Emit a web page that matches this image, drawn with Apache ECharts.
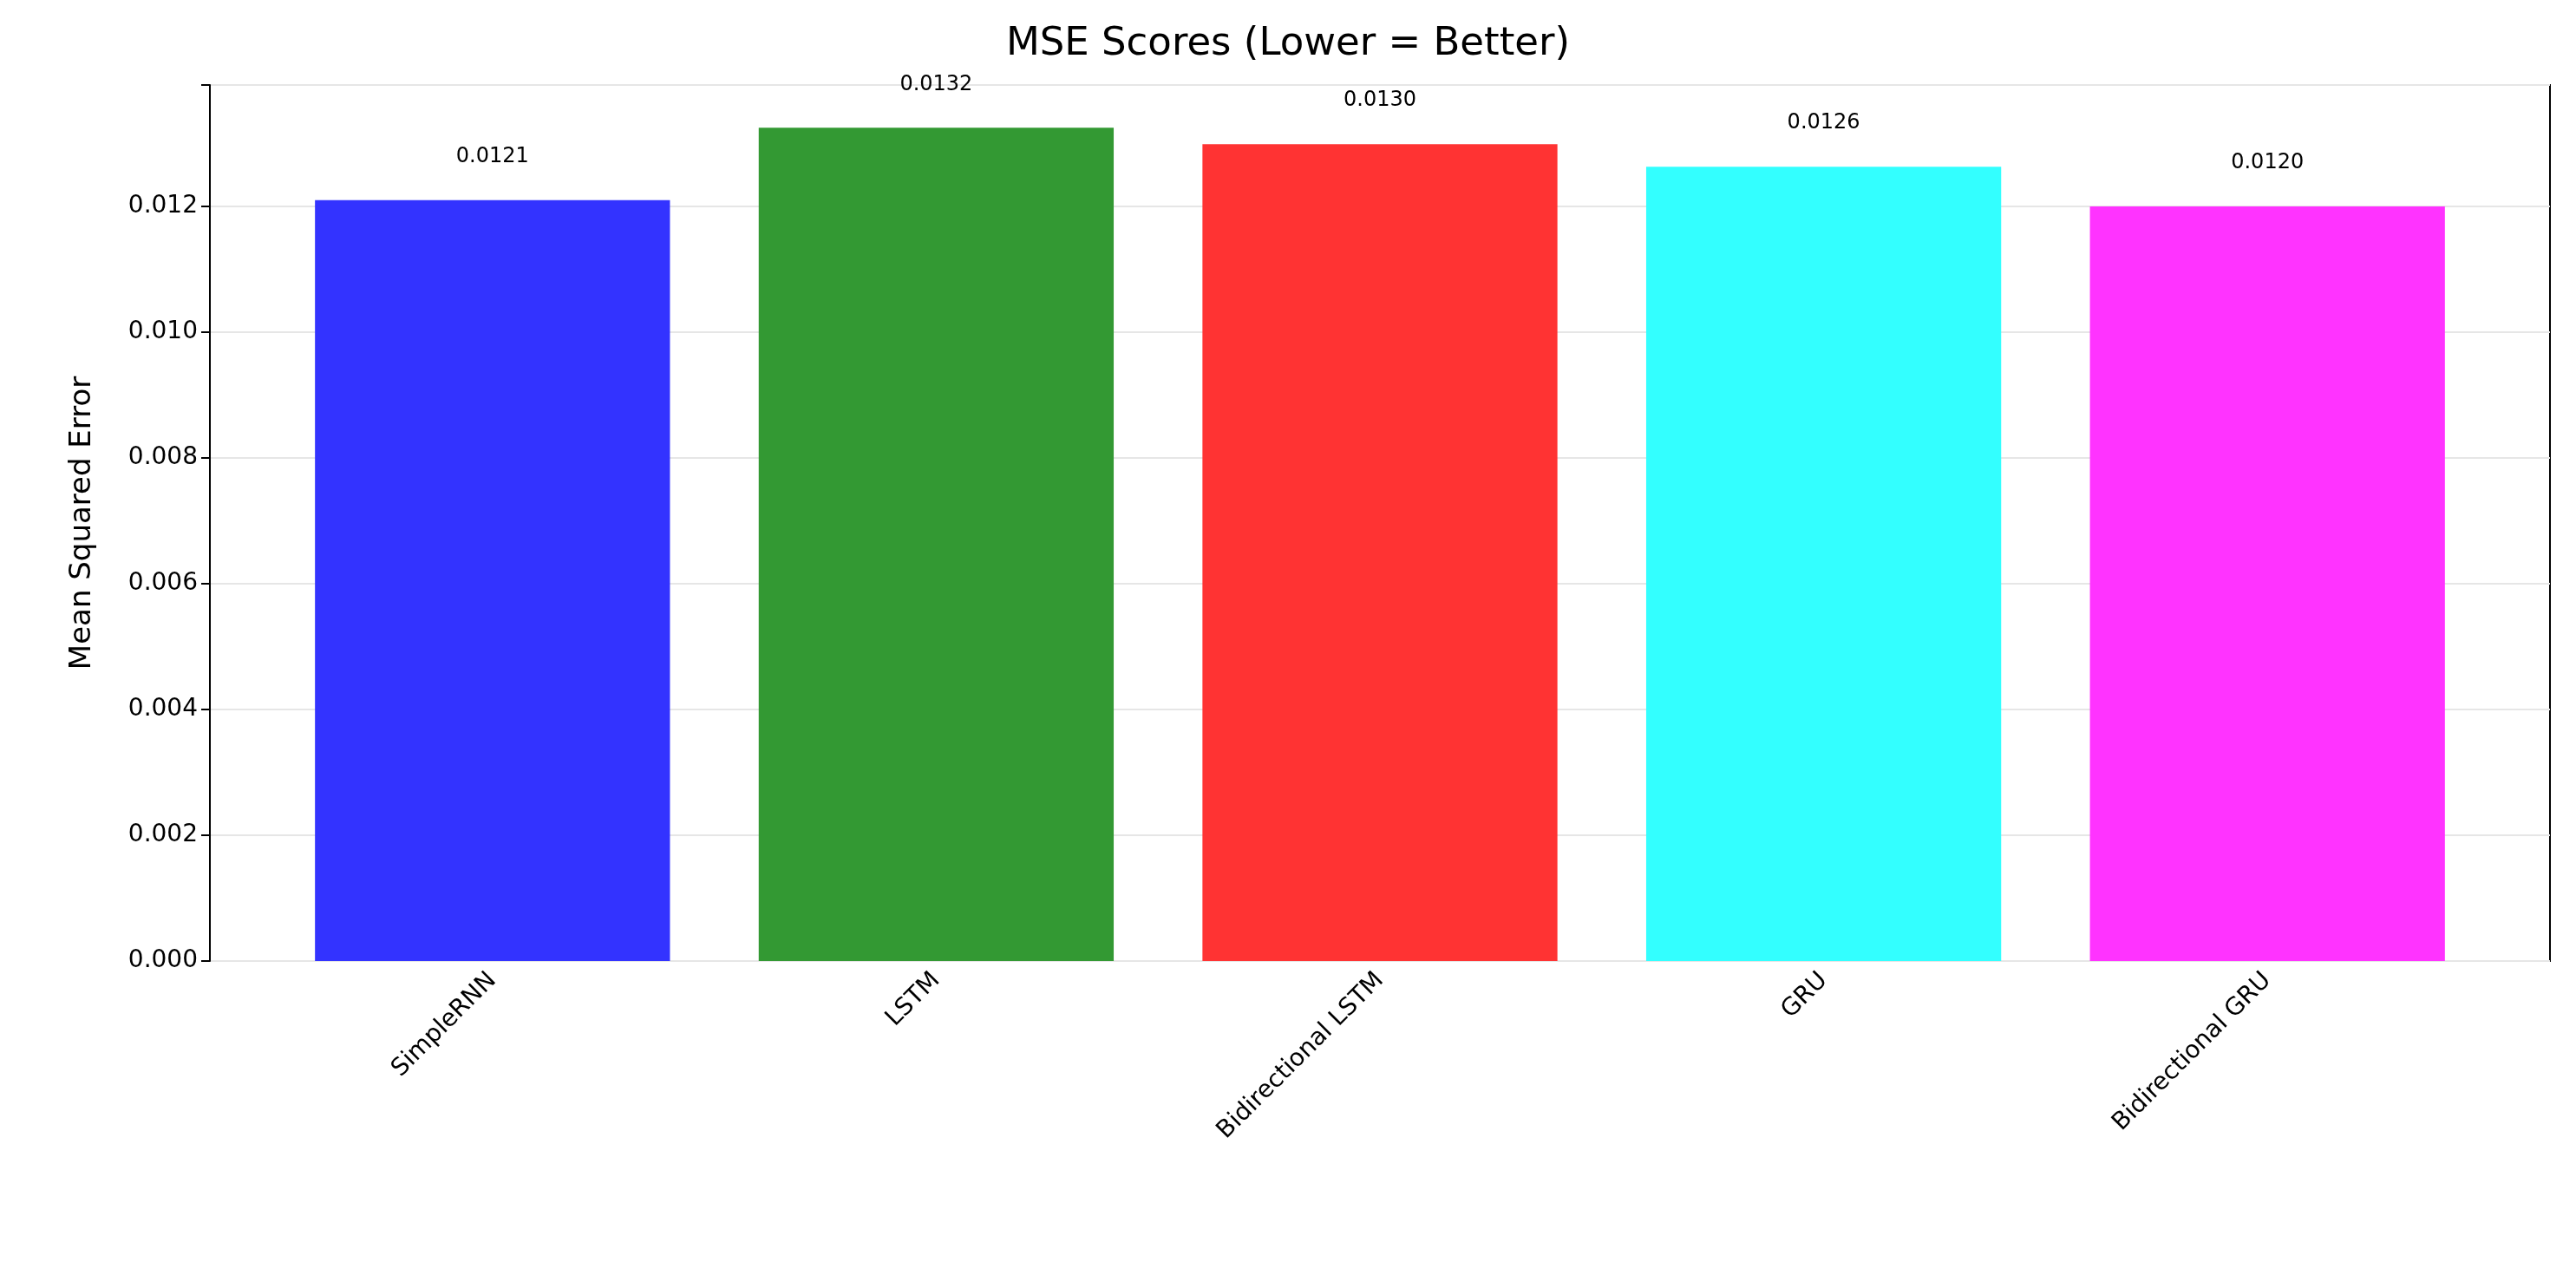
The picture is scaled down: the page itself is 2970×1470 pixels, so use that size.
<!DOCTYPE html>
<html>
<head>
<meta charset="utf-8">
<script src="https://cdn.jsdelivr.net/npm/echarts@6/dist/echarts.min.js"></script>
<style>html,body{margin:0;padding:0;background:#fff}#chart{width:2970px;height:1470px}</style>
</head>
<body>
<div id="chart"></div>
<script>
const models = ['SimpleRNN', 'LSTM', 'Bidirectional LSTM', 'GRU', 'Bidirectional GRU'];
const mseValues = [0.01210, 0.01325, 0.01299, 0.01263, 0.01200];
const barColors = ['#3333ff', '#339933', '#ff3333', '#33ffff', '#ff33ff'];
const yTicks = [0, 0.002, 0.004, 0.006, 0.008, 0.010, 0.012];

const font = 'DejaVu Sans';
const yMax = 0.01393;

const chart = echarts.init(document.getElementById('chart'));

const option = {
    backgroundColor: '#fff',
    animation: false,
    title: {
        text: 'MSE Scores (Lower = Better)',
        left: 'center',
        top: 24,
        textStyle: { fontFamily: font, fontSize: 45, fontWeight: 'normal', color: '#000' }
    },
    grid: [
        { left: 242, right: 30, top: 98, bottom: 362, show: true, borderColor: '#000', borderWidth: 2, backgroundColor: 'transparent' },
        { left: 312, right: 100, top: 98, bottom: 362 }
    ],
    xAxis: [
        { gridIndex: 0, type: 'value', min: 0, max: 1, show: false },
        {
            gridIndex: 1,
            type: 'category',
            data: models,
            axisLine: { show: false },
            axisTick: { alignWithLabel: true, length: 10, lineStyle: { color: '#000', width: 2 } },
            axisLabel: { rotate: 45, fontFamily: font, fontSize: 28, color: '#000', margin: 18 }
        }
    ],
    yAxis: [
        {
            gridIndex: 0,
            type: 'value',
            min: 0,
            max: yMax,
            interval: 0.002,
            name: 'Mean Squared Error',
            nameLocation: 'middle',
            nameGap: 130,
            nameTextStyle: { fontFamily: font, fontSize: 34, color: '#000' },
            axisLine: { show: true, lineStyle: { color: '#000', width: 2 } },
            axisTick: { show: true, length: 10, lineStyle: { color: '#000', width: 2 } },
            axisLabel: {
                fontFamily: font, fontSize: 28, color: '#000', margin: 14,
                formatter: v => yTicks.some(t => Math.abs(t - v) < 1e-9) ? v.toFixed(3) : ''
            },
            splitLine: { lineStyle: { color: '#e6e6e6', width: 2 } }
        },
        { gridIndex: 1, type: 'value', min: 0, max: yMax, show: false }
    ],
    series: [{
        type: 'bar',
        xAxisIndex: 1,
        yAxisIndex: 1,
        barWidth: '80%',
        data: mseValues.map((v, i) => ({ value: v, itemStyle: { color: barColors[i] } })),
        label: {
            show: true,
            position: 'top',
            distance: 38,
            fontFamily: font,
            fontSize: 24,
            color: '#000',
            formatter: p => p.value.toFixed(4)
        }
    }]
};

chart.setOption(option);
</script>
</body>
</html>
